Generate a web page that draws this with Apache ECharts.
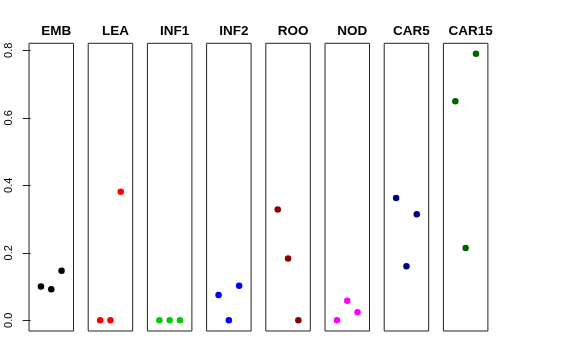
<!DOCTYPE html>
<html>
<head>
<meta charset="utf-8">
<script src="https://cdn.jsdelivr.net/npm/echarts@6/dist/echarts.min.js"></script>
<style>html,body{margin:0;padding:0;background:#fff}#c{width:576px;height:360px}</style>
</head>
<body>
<div id="c"></div>
<script>
var panels = ['EMB', 'LEA', 'INF1', 'INF2', 'ROO', 'NOD', 'CAR5', 'CAR15'];
var xPos = [1, 2, 3];
var EMB = [0.100, 0.092, 0.147];
var LEA = [0.000, 0.000, 0.381];
var INF1 = [0.000, 0.000, 0.000];
var INF2 = [0.075, 0.000, 0.102];
var ROO = [0.328, 0.183, 0.000];
var NOD = [0.000, 0.058, 0.024];
var CAR5 = [0.362, 0.160, 0.314];
var CAR15 = [0.649, 0.214, 0.790];
var values = [EMB, LEA, INF1, INF2, ROO, NOD, CAR5, CAR15];
var colors = ['#000000', '#FF0000', '#00CD00', '#0000FF', '#8B0000', '#FF00FF', '#000080', '#006400'];
var yTicks = [0, 0.2, 0.4, 0.6, 0.8];

(function () {
  var font = 'Liberation Sans, Arial, Helvetica, sans-serif';
  var left0 = 29, step = 59.2, pw = 44.5, gTop = 43.3, ph = 287.7;
  var grids = [], xAxes = [], yAxes = [], series = [], titles = [];
  panels.forEach(function (name, i) {
    var l = left0 + i * step;
    grids.push({left: l, top: gTop, width: pw, height: ph, show: true, borderColor: '#222', borderWidth: 1, backgroundColor: 'transparent'});
    xAxes.push({type: 'value', gridIndex: i, min: -0.16, max: 4.16, show: false});
    yAxes.push({
      type: 'value', gridIndex: i, min: -0.0317, max: 0.8207,
      show: i === 0,
      splitLine: {show: false},
      axisLine: {show: false},
      axisTick: {show: i === 0, length: 8, lineStyle: {color: '#222'}, customValues: yTicks},
      axisLabel: {show: i === 0, rotate: 90, margin: 15, fontSize: 11, color: '#000', fontFamily: font,
        customValues: yTicks, formatter: function (v) { return v.toFixed(1); }}
    });
    series.push({
      type: 'scatter', xAxisIndex: i, yAxisIndex: i, symbolSize: 6.5,
      itemStyle: {color: colors[i], opacity: 1},
      data: xPos.map(function (x, k) { return [x, values[i][k]]; }),
      silent: true, animation: false
    });
    titles.push({text: name, left: l + pw / 2, top: 19, textAlign: 'center',
      textStyle: {fontSize: 13.5, fontWeight: 'bold', color: '#000', fontFamily: font}});
  });

  var chart = echarts.init(document.getElementById('c'), null, {renderer: 'canvas'});
  chart.setOption({
    animation: false,
    backgroundColor: '#fff',
    title: titles,
    grid: grids,
    xAxis: xAxes,
    yAxis: yAxes,
    series: series
  });
})();
</script>
</body>
</html>
